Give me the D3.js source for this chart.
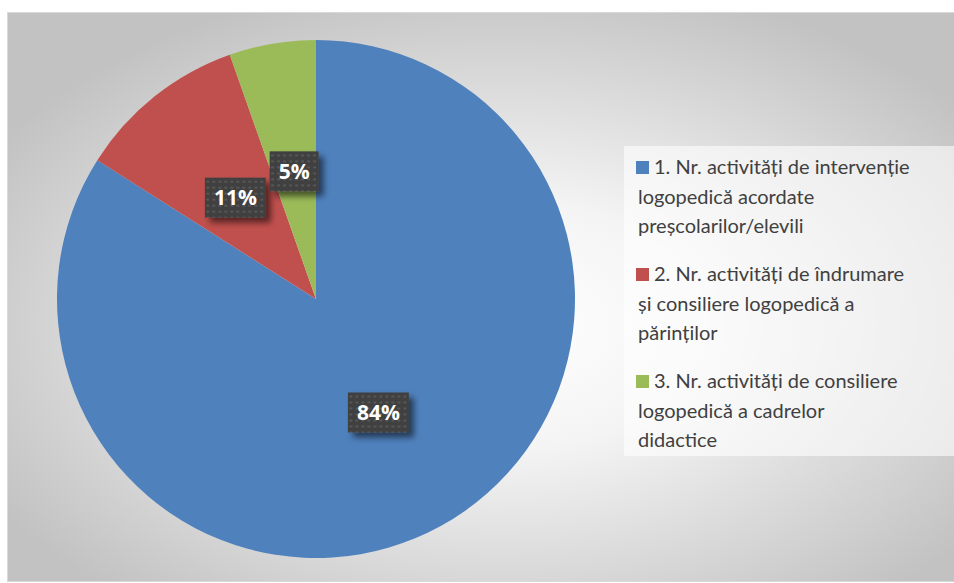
<!DOCTYPE html>
<meta charset="utf-8">
<style>
body { margin: 0; background: #fff; }
.legend text { font-family: Lato, "Open Sans", sans-serif; font-size: 20px; fill: #404040; }
.lbl { font-family: "Open Sans", Lato, sans-serif; font-size: 21px; font-weight: bold; fill: #fff; }
</style>
<svg width="954" height="583"></svg>
<script src="https://cdn.jsdelivr.net/npm/d3@7"></script>
<script>

var categories = [
  ["1. Nr. activități de intervenție", "logopedică acordate", "preșcolarilor/elevili"],
  ["2. Nr. activități de îndrumare", "și consiliere logopedică a", "părinților"],
  ["3. Nr. activități de consiliere", "logopedică a cadrelor", "didactice"]
];
var values = [84, 10.6, 5.4];
var colors = ["#4f81bd", "#c0504d", "#9bbb59"];

var svg = d3.select("svg"),
    width = +svg.attr("width"),
    height = +svg.attr("height");

var defs = svg.append("defs");

var grad = defs.append("radialGradient")
    .attr("id", "bg")
    .attr("cx", "52%").attr("cy", "55%").attr("r", "62%");
grad.append("stop").attr("offset", "0%").attr("stop-color", "#ffffff");
grad.append("stop").attr("offset", "35%").attr("stop-color", "#f4f4f4");
grad.append("stop").attr("offset", "100%").attr("stop-color", "#c2c2c2");

var pat = defs.append("pattern")
    .attr("id", "dots")
    .attr("width", 6).attr("height", 6)
    .attr("patternUnits", "userSpaceOnUse");
pat.append("rect").attr("width", 6).attr("height", 6).attr("fill", "#3f3f3f");
pat.append("rect").attr("x", 1).attr("y", 1).attr("width", 3).attr("height", 2).attr("fill", "#575757");

var shadow = defs.append("filter")
    .attr("id", "shadow")
    .attr("x", "-30%").attr("y", "-30%").attr("width", "160%").attr("height", "160%");
shadow.append("feGaussianBlur").attr("in", "SourceAlpha").attr("stdDeviation", 3);
shadow.append("feOffset").attr("dx", 5).attr("dy", 5).attr("result", "b");
shadow.append("feComponentTransfer").append("feFuncA").attr("type", "linear").attr("slope", 0.55);
var merge = shadow.append("feMerge");
merge.append("feMergeNode");
merge.append("feMergeNode").attr("in", "SourceGraphic");

// chart area
svg.append("rect")
    .attr("x", 7.5).attr("y", 12.5)
    .attr("width", width - 7).attr("height", height - 14)
    .attr("fill", "url(#bg)")
    .attr("stroke", "#d9d9d9");

var cx = 316, cy = 299, radius = 259;

var pie = d3.pie().sort(null).value(function(d) { return d; });
var arc = d3.arc().innerRadius(0).outerRadius(radius);
var arcs = pie(values);

var g = svg.append("g").attr("transform", "translate(" + cx + "," + cy + ")");

g.selectAll("path")
    .data(arcs)
  .enter().append("path")
    .attr("d", arc)
    .attr("fill", function(d, i) { return colors[i]; });

var total = d3.sum(values);
var fmt = function(v) { return Math.round(v / total * 100) + "%"; };

var labels = g.selectAll("g.label")
    .data(arcs)
  .enter().append("g")
    .attr("class", "label")
    .attr("transform", function(d) { return "translate(" + arc.centroid(d) + ")"; });

labels.each(function(d) {
  var sel = d3.select(this);
  var box = sel.append("rect").attr("fill", "url(#dots)").attr("filter", "url(#shadow)");
  var t = sel.append("text")
      .attr("class", "lbl")
      .attr("text-anchor", "middle")
      .attr("dy", "0.36em")
      .text(fmt(d.value));
  var w = t.node().getComputedTextLength() + 18, h = 40;
  box.attr("x", -w / 2).attr("y", -h / 2).attr("width", w).attr("height", h);
});

// legend
var legend = svg.append("g").attr("class", "legend");
legend.append("rect")
    .attr("x", 624).attr("y", 146)
    .attr("width", 330).attr("height", 310)
    .attr("fill", "#ffffff").attr("fill-opacity", 0.6);

var y0 = d3.scaleLinear().domain([0, 1]).range([167, 274]);
var item = legend.selectAll("g.item")
    .data(categories)
  .enter().append("g")
    .attr("class", "item")
    .attr("transform", function(d, i) { return "translate(0," + y0(i) + ")"; });

item.append("rect")
    .attr("x", 636).attr("y", -6)
    .attr("width", 13).attr("height", 13)
    .attr("fill", function(d, i) { return colors[i]; });

item.selectAll("text")
    .data(function(d) { return d; })
  .enter().append("text")
    .attr("x", function(d, j) { return j === 0 ? 654 : 638; })
    .attr("y", function(d, j) { return j * 29.5; })
    .attr("dy", "0.35em")
    .text(function(d) { return d; });

</script>
